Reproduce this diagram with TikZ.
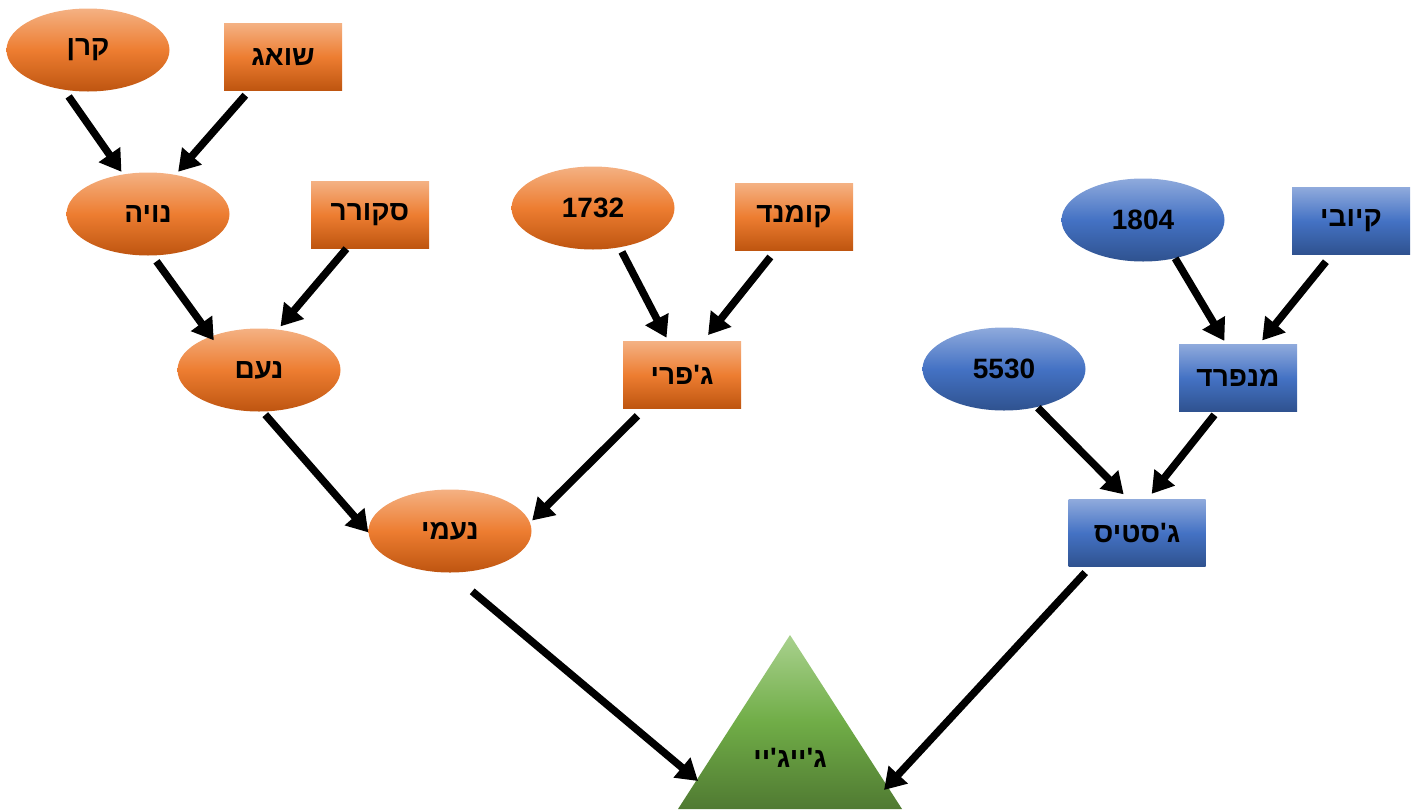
\documentclass[tikz,border=0pt]{standalone}
\usepackage{fontspec}
\newfontfamily\hebfont[Script=Hebrew]{Liberation Sans}
\TeXXeTstate=1
\usetikzlibrary{shapes.geometric,arrows.meta}

\newcommand{\hebtxt}[1]{\beginR#1\endR}

\definecolor{orTop}{RGB}{244,177,131}
\definecolor{orMid}{RGB}{237,125,49}
\definecolor{orBot}{RGB}{190,85,16}
\definecolor{blTop}{RGB}{143,170,220}
\definecolor{blMid}{RGB}{68,114,196}
\definecolor{blBot}{RGB}{47,82,143}
\definecolor{grTop}{RGB}{169,209,142}
\definecolor{grMid}{RGB}{112,173,71}
\definecolor{grBot}{RGB}{80,122,50}

\tikzset{
  lbl/.style={inner sep=0pt, font=\hebfont\bfseries\fontsize{28}{32}\selectfont},
  oval/.style={lbl, ellipse, minimum width=163pt, minimum height=83pt},
  box/.style={lbl, rectangle, minimum width=118pt, minimum height=67pt},
  orange/.style={top color=orTop, bottom color=orBot, middle color=orMid},
  blue/.style={top color=blTop, bottom color=blBot, middle color=blMid},
  arr/.style={line width=7.5pt, -{Triangle[length=21pt,width=25pt]}}
}

\begin{document}
\begin{tikzpicture}[x=1pt,y=-1pt]
            \useasboundingbox (0,0) rectangle (1420,809);

            % left branch
            \node [oval,orange] (keren) at (88,50) {\hebtxt{קרן}};
            \node [box,orange] (shoag) at (283,57) {\hebtxt{שואג}};
            \node [oval,orange] (noya) at (148,214) {\hebtxt{נויה}};
            \node [box,orange] (sokorer) at (370,215) {\hebtxt{סקורר}};
            \node [oval,orange] (noam) at (259,370) {\hebtxt{נעם}};
            \node [oval,orange] (n1732) at (593,208) {1732};
            \node [box,orange] (komand) at (794,217) {\hebtxt{קומנד}};
            \node [box,orange] (jefri) at (682,375) {\hebtxt{ג'פרי}};
            \node [oval,orange] (naomi) at (450,531) {\hebtxt{נעמי}};

            % right branch
            \node [oval,blue] (n1804) at (1143,220) {1804};
            \node [box,blue] (kyubi) at (1351,221) {\hebtxt{קיובי}};
            \node [oval,blue] (n5530) at (1004,369) {5530};
            \node [box,blue] (manfred) at (1238,378) {\hebtxt{מנפרד}};
            \node [box,blue,minimum width=137pt] (justice) at (1137,533) {\hebtxt{ג'סטיס}};

            % bottom
            \shade [top color=grTop, bottom color=grBot, middle color=grMid]
               (790,635) -- (678,809) -- (902,809) -- cycle;
            \node [lbl] (jayjay) at (790,758) {\hebtxt{ג'ייג'יי}};
            \coordinate (jayjay-l) at (698,781);
            \coordinate (jayjay-r) at (884,790);

            \draw [arr,shorten <=8pt,shorten >=3pt] (keren.-121) -- (noya.122);
            \draw [arr,shorten <=6pt,shorten >=4pt] (shoag.-135) -- (noya.55);
            \draw [arr,shorten <=7pt,shorten >=-5pt] (noya.-84) -- (noam.145);
            \draw [arr,shorten >=4pt] (sokorer.-125) -- (noam.65);
            \draw [arr,shorten <=4pt] (noam.-85) -- (naomi.181);
            \draw [arr,shorten <=10pt,shorten >=3pt] (jefri.-138) -- (naomi.6);
            \draw [arr,shorten <=5pt,shorten >=4pt] (n1732.-56) -- (jefri.112);
            \draw [arr,shorten <=8pt,shorten >=8pt] (komand.-119) -- (jefri.58);
            \draw [arr,shorten <=29pt] (naomi.south) -- (jayjay-l);

            \draw [arr,shorten >=4pt] (n1804.-50) -- (manfred.109);
            \draw [arr,shorten <=9pt,shorten >=5pt] (kyubi.-120) -- (manfred.58);
            \draw [arr,shorten <=1pt,shorten >=7pt] (n5530.-49) -- (justice.104);
            \draw [arr,shorten <=4pt,shorten >=7pt] (manfred.-122) -- (justice.73);
            \draw [arr,shorten <=8pt] (justice.-144) -- (jayjay-r);
\end{tikzpicture}
\end{document}
